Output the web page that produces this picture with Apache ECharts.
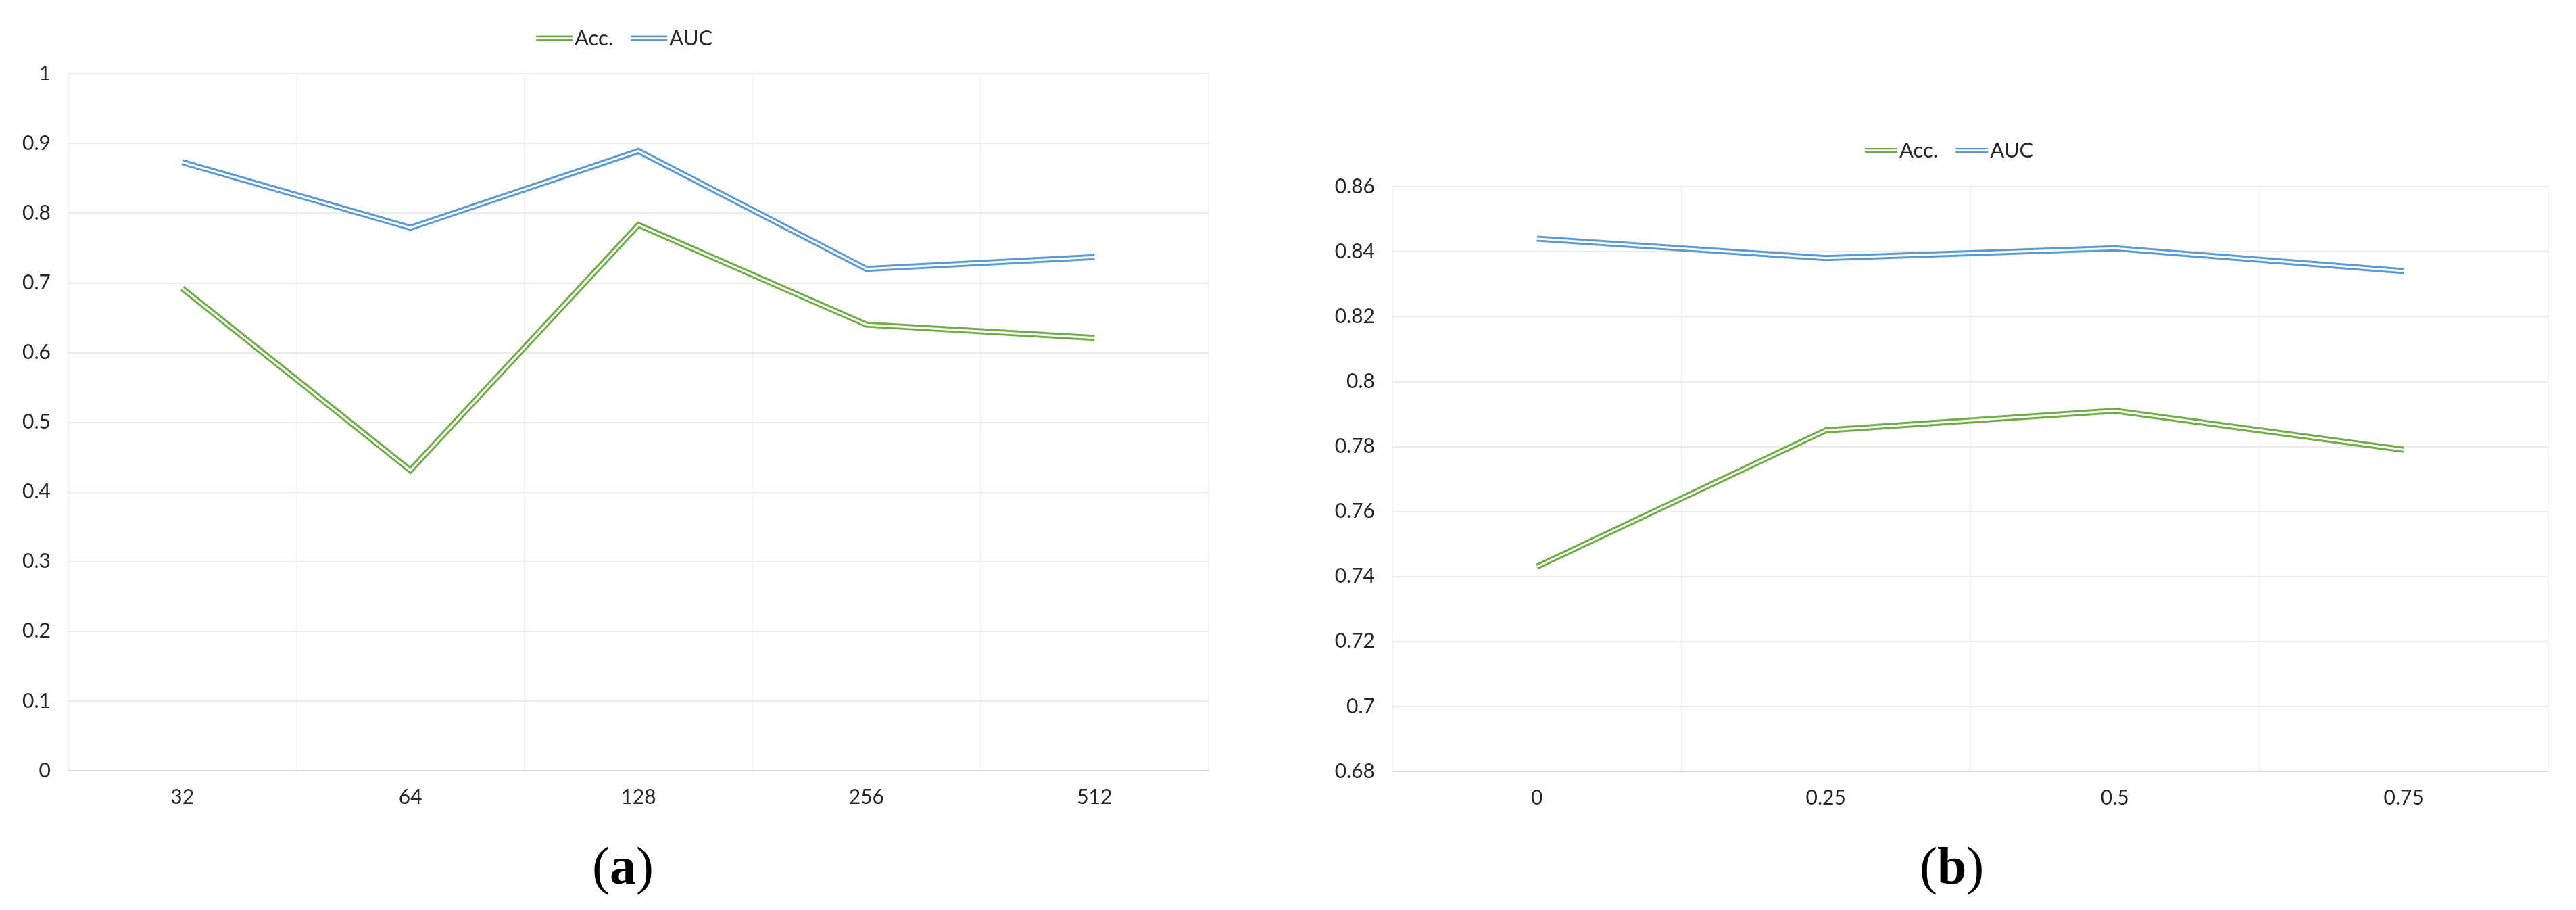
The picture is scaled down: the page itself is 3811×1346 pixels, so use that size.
<!DOCTYPE html>
<html>
<head>
<meta charset="utf-8">
<script src="https://cdn.jsdelivr.net/npm/echarts@6/dist/echarts.min.js"></script>
<style>
html,body{margin:0;padding:0;background:#fff;}
#c{width:3811px;height:1346px;}
</style>
</head>
<body>
<div id="c"></div>
<script>
// ---- data ----
const catsA = ['32', '64', '128', '256', '512'];
const accA = [0.692, 0.431, 0.783, 0.640, 0.621];
const aucA = [0.873, 0.779, 0.889, 0.720, 0.737];

const catsB = ['0', '0.25', '0.5', '0.75'];
const accB = [0.743, 0.785, 0.791, 0.779];
const aucB = [0.844, 0.838, 0.841, 0.834];

const seriesNames = ['Acc.', 'AUC'];
const captions = ['(a)', '(b)'];

// ---- styling ----
const GREEN = '#70AD47';
const BLUE = '#5B9BD5';
const FONT = 'Lato';
const TXT = '#262626';
const ICON = 'path://M0,0H60V3H0Z M0,6H60V9H0Z';

function doubleLine(name, data, color, idx) {
  return [
    {
      name: name, type: 'line', data: data, xAxisIndex: idx, yAxisIndex: idx,
      symbol: 'none', z: 3,
      lineStyle: { color: color, width: 9, join: 'miter' },
      itemStyle: { color: color }
    },
    {
      name: name + '_inner', type: 'line', data: data, xAxisIndex: idx, yAxisIndex: idx,
      symbol: 'none', z: 4, silent: true,
      lineStyle: { color: '#ffffff', width: 3, join: 'miter' }
    }
  ];
}

function xAx(cats, idx) {
  return {
    type: 'category', gridIndex: idx, data: cats, boundaryGap: true,
    axisLine: { show: true, lineStyle: { color: '#D9D9D9', width: 2 } },
    axisTick: { show: false },
    splitLine: { show: true, lineStyle: { color: '#EFEFEF', width: 1.5 } },
    axisLabel: { color: TXT, fontSize: 30, fontFamily: FONT, margin: 24 }
  };
}
function yAx(min, max, interval, idx) {
  return {
    type: 'value', gridIndex: idx, min: min, max: max, interval: interval,
    axisLine: { show: false }, axisTick: { show: false },
    splitLine: { show: true, lineStyle: { color: '#EBEBEB', width: 2 } },
    axisLabel: {
      color: TXT, fontSize: 30, fontFamily: FONT, margin: 26,
      formatter: v => String(parseFloat(v.toFixed(4)))
    }
  };
}

const chart = echarts.init(document.getElementById('c'), null, { renderer: 'canvas' });
chart.setOption({
  backgroundColor: '#ffffff',
  animation: false,
  grid: [
    { left: 101, top: 109, width: 1687, height: 1031 },
    { left: 2060, top: 276, width: 1710, height: 865 }
  ],
  legend: [
    {
      data: seriesNames, left: 788, top: 36, icon: ICON, itemWidth: 54, itemHeight: 9,
      itemGap: 26, textStyle: { fontSize: 31, fontFamily: FONT, color: TXT, padding: [0, 0, 0, -2] }
    },
    {
      data: seriesNames, left: 2754, top: 202, icon: ICON, itemWidth: 48, itemHeight: 9,
      itemGap: 26, textStyle: { fontSize: 31, fontFamily: FONT, color: TXT, padding: [0, 0, 0, -2] }
    }
  ],
  xAxis: [xAx(catsA, 0), xAx(catsB, 1)],
  yAxis: [yAx(0, 1, 0.1, 0), yAx(0.68, 0.86, 0.02, 1)],
  series: [].concat(
    doubleLine(seriesNames[0], accA, GREEN, 0),
    doubleLine(seriesNames[1], aucA, BLUE, 0),
    doubleLine(seriesNames[0], accB, GREEN, 1),
    doubleLine(seriesNames[1], aucB, BLUE, 1)
  ),
  graphic: [
    {
      type: 'text', left: 876, top: 1248,
      style: {
        text: '{p|(}{b|a}{p|)}',
        rich: {
          p: { fontSize: 78, fontFamily: 'Liberation Serif', fill: '#000' },
          b: { fontSize: 78, fontFamily: 'Liberation Serif', fontWeight: 'bold', fill: '#000' }
        }
      }
    },
    {
      type: 'text', left: 2840, top: 1248,
      style: {
        text: '{p|(}{b|b}{p|)}',
        rich: {
          p: { fontSize: 78, fontFamily: 'Liberation Serif', fill: '#000' },
          b: { fontSize: 78, fontFamily: 'Liberation Serif', fontWeight: 'bold', fill: '#000' }
        }
      }
    }
  ]
});
</script>
</body>
</html>
